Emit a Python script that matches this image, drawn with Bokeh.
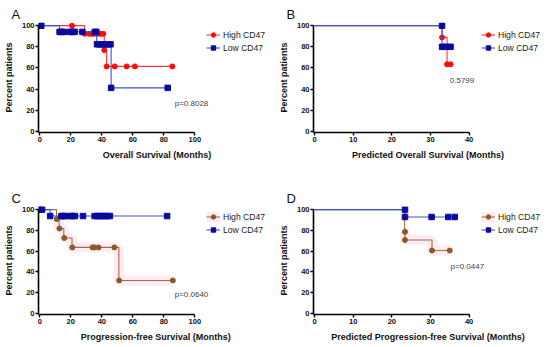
from bokeh.plotting import figure
from bokeh.layouts import column, row
from bokeh.models import Legend, LegendItem, Label, FixedTicker, Range1d
from bokeh.embed import file_html
from bokeh.resources import INLINE

# ---------------- data ----------------
# Panel A: Overall Survival
a_high_t = [0, 28.8, 41.6, 43.1, 85.5]
a_high_s = [100, 92.3, 76.9, 61.5, 61.5]
a_high_mt = [0.8, 20.8, 29.0, 32.0, 33.5, 35.0, 37.5, 39.5, 41.0, 41.6, 43.1, 48.3, 56.0, 61.3, 85.5]
a_high_ms = [100, 100, 92.3, 92.3, 92.3, 92.3, 92.3, 92.3, 92.3, 76.9, 61.5, 61.5, 61.5, 61.5, 61.5]
a_low_t = [0, 12.8, 36.7, 46.0, 82.5]
a_low_s = [100, 94.1, 82.4, 41.2, 41.2]
a_low_mt = [1.0, 12.8, 14.0, 15.5, 19.5, 21.0, 22.5, 27.5, 35.5, 36.5, 36.9, 38.3, 39.7, 41.2, 42.7, 44.2, 45.6, 46.0, 82.5]
a_low_ms = [100, 94.1, 94.1, 94.1, 94.1, 94.1, 94.1, 94.1, 94.1, 94.1, 82.4, 82.4, 82.4, 82.4, 82.4, 82.4, 82.4, 41.2, 41.2]

# Panel B: Predicted Overall Survival
b_high_t = [0, 33.0, 34.3, 35.2]
b_high_s = [100, 88.9, 63.5, 63.5]
b_high_mt = [33.0, 34.3, 35.2]
b_high_ms = [88.9, 63.5, 63.5]
b_low_t = [0, 33.0, 35.2]
b_low_s = [100, 80.0, 80.0]
b_low_mt = [33.0, 33.0, 34.0, 35.2]
b_low_ms = [100, 80.0, 80.0, 80.0]

# Panel C: Progression-free Survival
c_high_t = [0, 10.8, 12.5, 15.5, 20.8, 51.0, 85.8]
c_high_s = [100, 90.9, 81.8, 72.7, 63.6, 31.8, 31.8]
c_high_mt = [11.0, 12.7, 15.8, 21.0, 34.0, 35.2, 37.9, 48.1, 51.2, 85.8]
c_high_ms = [90.9, 81.8, 72.7, 63.6, 63.6, 63.6, 63.6, 63.6, 31.8, 31.8]
c_low_t = [0, 6.7, 82.1]
c_low_s = [100, 93.8, 93.8]
c_low_mt = [0.3, 1.5, 6.7, 14.0, 15.0, 16.7, 19.6, 21.0, 22.7, 27.9, 35.4, 37.3, 39.0, 40.4, 42.0, 43.5, 45.2, 82.1]
c_low_ms = [100, 100, 93.8, 93.8, 93.8, 93.8, 93.8, 93.8, 93.8, 93.8, 93.8, 93.8, 93.8, 93.8, 93.8, 93.8, 93.8, 93.8]

# Panel D: Predicted Progression-free Survival
d_high_t = [0, 23.3, 23.4, 30.4, 35.0]
d_high_s = [100, 78.6, 70.7, 60.6, 60.6]
d_high_mt = [23.4, 23.4, 30.4, 35.0]
d_high_ms = [78.6, 70.7, 60.6, 60.6]
d_low_t = [0, 23.4, 36.3]
d_low_s = [100, 92.9, 92.9]
d_low_mt = [23.4, 23.4, 30.3, 34.6, 36.3]
d_low_ms = [100, 92.9, 92.9, 92.9, 92.9]

y_ticks = [0, 20, 40, 60, 80, 100]
x_ticks_long = [0, 20, 40, 60, 80, 100]
x_ticks_short = [0, 10, 20, 30, 40]
series_labels = ["High CD47", "Low CD47"]

# ---------------- style ----------------
FONT = "Liberation Sans"
RED, RED_LINE = "#ff0a0a", "#ff3535"
BLUE, BLUE_LINE = "#0a0aa0", "#4052c8"
BROWN, BROWN_LINE = "#8a5a22", "#a0703a"
PINK = "#fdeaf4"

AXIS_W = 161          # pixels from x-start to last x tick
Y0, Y1 = -1, 103


def panel(letter, xlabel, x0, xticks, left, width, height, top, bottom):
    frame_w = width - left
    x1 = x0 + (xticks[-1] - x0) * frame_w / AXIS_W
    p = figure(width=width, height=height, output_backend="svg", toolbar_location=None,
               x_range=Range1d(x0, x1), y_range=Range1d(Y0, Y1),
               min_border_left=left, min_border_right=0,
               min_border_top=top, min_border_bottom=bottom)
    p.title.text = letter
    p.title.text_font = FONT
    p.title.text_font_size = "13px"
    p.title.text_font_style = "normal"
    p.title.text_color = "#111111"
    p.title.align = "left"
    p.title.offset = -27
    p.title.standoff = 1
    p.xaxis.ticker = FixedTicker(ticks=xticks)
    p.yaxis.ticker = FixedTicker(ticks=y_ticks)
    p.xaxis.bounds = (x0, xticks[-1])
    p.yaxis.bounds = (Y0, 100)
    p.xaxis.axis_label = xlabel
    p.yaxis.axis_label = "Percent patients"
    for ax in (p.xaxis[0], p.yaxis[0]):
        ax.axis_line_color = "black"
        ax.axis_line_width = 1.6
        ax.major_tick_line_color = "black"
        ax.major_tick_line_width = 1.4
        ax.major_tick_out = 3
        ax.major_tick_in = 0
        ax.minor_tick_line_color = None
        ax.major_label_text_font = FONT
        ax.major_label_text_font_size = "7.5px"
        ax.major_label_text_font_style = "bold"
        ax.major_label_text_color = "#111111"
        ax.major_label_standoff = 1
        ax.axis_label_text_font = FONT
        ax.axis_label_text_font_size = "9px"
        ax.axis_label_text_font_style = "bold"
        ax.axis_label_text_color = "#111111"
        ax.axis_label_standoff = 5
    p.grid.visible = False
    p.outline_line_color = None
    p.background_fill_color = "white"
    return p


def add_series(p, t, s, mt, ms, line_color, color, marker, pink=False):
    rends = []
    if pink:
        rends.append(p.step(t[1:], s[1:], mode="after", line_color=PINK, line_width=10))
    rends.append(p.step(t, s, mode="after", line_color=line_color, line_width=1.1))
    rends.append(p.scatter(mt, ms, marker=marker, size=5 if marker == "circle" else 5.5,
                           fill_color=color, line_color=color))
    return rends


def add_legend(p, r_high, r_low, frame_h):
    leg = Legend(items=[LegendItem(label=series_labels[0], renderers=r_high),
                        LegendItem(label=series_labels[1], renderers=r_low)],
                 location=(AXIS_W + 5, frame_h - 5 - 28),
                 glyph_width=14, glyph_height=11, label_height=11, spacing=2,
                 padding=2, margin=0, label_standoff=3,
                 label_text_font=FONT, label_text_font_size="8.6px", label_text_color="#222222",
                 background_fill_alpha=0, border_line_alpha=0)
    p.add_layout(leg, "center")


def add_p(p, text, x, y):
    p.add_layout(Label(x=x, y=y, text=text, text_font=FONT, text_font_size="8px",
                       text_color="#444444", text_baseline="middle"))


TOP_H, TOP_T, TOP_F = 176, 22, 110
BOT_H, BOT_T, BOT_F = 168, 30, 110

# A
pA = panel("A", "Overall Survival (Months)", -0.8, x_ticks_long, 31, 275, TOP_H, TOP_T, TOP_H - TOP_T - TOP_F)
rh = add_series(pA, a_high_t, a_high_s, a_high_mt, a_high_ms, RED_LINE, RED, "circle")
rl = add_series(pA, a_low_t, a_low_s, a_low_mt, a_low_ms, BLUE_LINE, BLUE, "square")
add_legend(pA, rh, rl, TOP_F)
add_p(pA, "p=0.8028", 87, 26)

# B
pB = panel("B", "Predicted Overall Survival (Months)", -0.3, x_ticks_short, 30, 267, TOP_H, TOP_T, TOP_H - TOP_T - TOP_F)
rh = add_series(pB, b_high_t, b_high_s, b_high_mt, b_high_ms, RED_LINE, RED, "circle")
rl = add_series(pB, b_low_t, b_low_s, b_low_mt, b_low_ms, BLUE_LINE, BLUE, "square")
add_legend(pB, rh, rl, TOP_F)
add_p(pB, "0.5799", 35, 48.6)

# C
pC = panel("C", "Progression-free Survival  (Months)", -0.8, x_ticks_long, 31, 275, BOT_H, BOT_T, BOT_H - BOT_T - BOT_F)
rh = add_series(pC, c_high_t, c_high_s, c_high_mt, c_high_ms, BROWN_LINE, BROWN, "circle", pink=True)
rl = add_series(pC, c_low_t, c_low_s, c_low_mt, c_low_ms, BLUE_LINE, BLUE, "square")
add_legend(pC, rh, rl, BOT_F)
add_p(pC, "p=0.0640", 87, 18)

# D
pD = panel("D", "Predicted Progression-free Survival (Months)", -0.3, x_ticks_short, 30, 267, BOT_H, BOT_T, BOT_H - BOT_T - BOT_F)
rh = add_series(pD, d_high_t, d_high_s, d_high_mt, d_high_ms, BROWN_LINE, BROWN, "circle", pink=True)
rl = add_series(pD, d_low_t, d_low_s, d_low_mt, d_low_ms, BLUE_LINE, BLUE, "square")
add_legend(pD, rh, rl, BOT_F)
add_p(pD, "p=0.0447", 35.2, 45.4)

layout = column(row(pA, pB), row(pC, pD))
open("out.html", "w").write(file_html(layout, INLINE))
